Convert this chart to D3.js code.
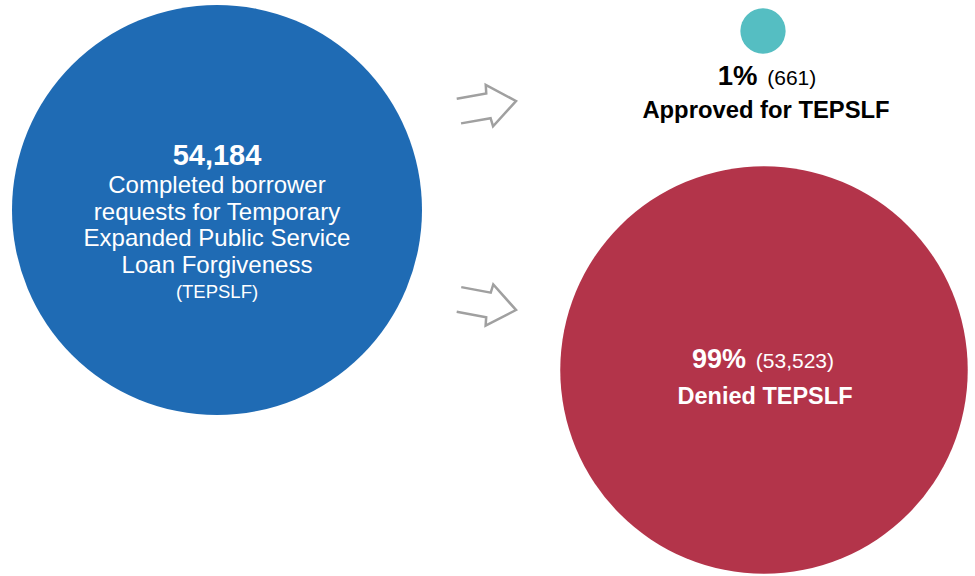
<!DOCTYPE html>
<html>
<head>
<meta charset="utf-8">
<script src="https://cdn.jsdelivr.net/npm/d3@7"></script>
<style>
  body { margin: 0; background: #fff; }
  text { font-family: "Liberation Sans", Arial, sans-serif; }
</style>
</head>
<body>
<script>
  // data
  const groups = ["Completed", "Approved", "Denied"];
  const counts = [54184, 661, 53523];
  const shares = ["", "1%", "99%"];
  const labels = ["Completed borrower requests for Temporary Expanded Public Service Loan Forgiveness",
                  "Approved for TEPSLF", "Denied TEPSLF"];
  const colors = ["#1f6bb4", "#55bec2", "#b3344a"];

  const w = 975, h = 576;

  // circle size by area
  const rScale = d3.scaleSqrt().domain([0, d3.max(counts)]).range([0, 205]);
  const centers = [[217, 210], [763, 31], [764, 370]];

  const svg = d3.select("body").append("svg")
    .attr("width", w).attr("height", h);

  svg.selectAll("circle")
    .data(groups)
    .enter()
    .append("circle")
    .attr("cx", (d, i) => centers[i][0])
    .attr("cy", (d, i) => centers[i][1])
    .attr("r", (d, i) => rScale(counts[i]))
    .attr("fill", (d, i) => colors[i]);

  const fmt = d3.format(",");

  // big blue circle text
  const blue = svg.append("g").attr("fill", "#fff").attr("text-anchor", "middle");
  blue.append("text")
    .attr("x", centers[0][0]).attr("y", 165)
    .attr("font-size", 29).attr("font-weight", "bold")
    .text(fmt(counts[0]));
  const blueLines = ["Completed borrower", "requests for Temporary", "Expanded Public Service", "Loan Forgiveness"];
  blue.selectAll("text.line")
    .data(blueLines)
    .enter()
    .append("text")
    .attr("class", "line")
    .attr("x", centers[0][0])
    .attr("y", (d, i) => 193 + i * 26.5)
    .attr("font-size", 24)
    .text(d => d);
  blue.append("text")
    .attr("x", centers[0][0]).attr("y", 298)
    .attr("font-size", 18.5)
    .text("(TEPSLF)");

  // approved label
  const appr = svg.append("text").attr("text-anchor", "middle")
    .attr("x", 767).attr("y", 85).attr("fill", "#000");
  appr.append("tspan").attr("font-size", 27.5).attr("font-weight", "bold").text(shares[1]);
  appr.append("tspan").attr("font-size", 21).attr("dx", 4).text(" (" + fmt(counts[1]) + ")");
  svg.append("text").attr("text-anchor", "middle")
    .attr("x", 766).attr("y", 118)
    .attr("font-size", 23.8).attr("font-weight", "bold")
    .text(labels[1]);

  // denied label
  const den = svg.append("text").attr("text-anchor", "middle")
    .attr("x", 763).attr("y", 368).attr("fill", "#fff");
  den.append("tspan").attr("font-size", 27).attr("font-weight", "bold").text(shares[2]);
  den.append("tspan").attr("font-size", 21).attr("dx", 4).text(" (" + fmt(counts[2]) + ")");
  svg.append("text").attr("text-anchor", "middle")
    .attr("x", 765).attr("y", 404).attr("fill", "#fff")
    .attr("font-size", 23.5).attr("font-weight", "bold")
    .text(labels[2]);

  // outline arrows, tip at origin
  const arrowShape = [[-58, -12.5], [-28, -12.5], [-27, -21], [0, 0], [-27, 21], [-28, 12.5], [-58, 12.5]];
  const arrows = [{ x: 516, y: 101, a: -10 }, { x: 516, y: 310, a: 10.5 }];
  svg.selectAll("path.arrow")
    .data(arrows)
    .enter()
    .append("path")
    .attr("class", "arrow")
    .attr("d", d3.line()(arrowShape))
    .attr("transform", d => `translate(${d.x},${d.y}) rotate(${d.a})`)
    .attr("fill", "none")
    .attr("stroke", "#a0a0a0")
    .attr("stroke-width", 2.5);
</script>
</body>
</html>
